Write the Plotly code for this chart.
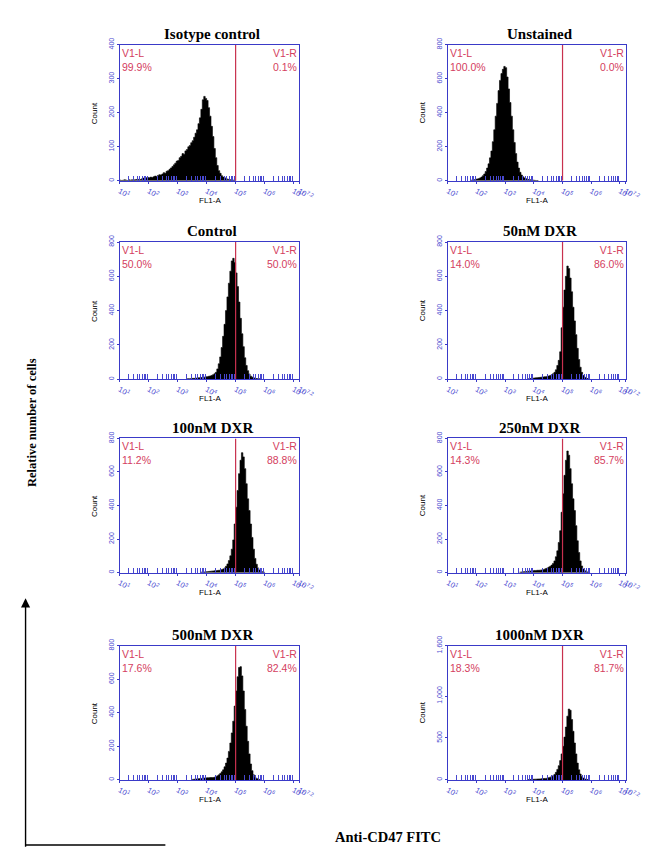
import plotly.graph_objects as go

W, H = 661, 849          # browser window
OFF = 8                  # default page (body) margin of the HTML page
FW, FH = W - OFF, H - OFF

# ---------------- data ----------------
BIN_STEP = 0.05  # histogram bin width in log10(FL1-A)

titles = ["Isotype control", "Unstained", "Control", "50nM DXR",
          "100nM DXR", "250nM DXR", "500nM DXR", "1000nM DXR"]
left_pct = ["99.9%", "100.0%", "50.0%", "14.0%", "11.2%", "14.3%", "17.6%", "18.3%"]
right_pct = ["0.1%", "0.0%", "50.0%", "86.0%", "88.8%", "85.7%", "82.4%", "81.7%"]
gate_log = [5.0, 5.0, 5.0, 5.0, 5.0, 5.0, 5.0, 5.0]
y_max = [400, 800, 800, 800, 800, 800, 800, 1600]
y_tickvals = [[0, 100, 200, 300, 400], [0, 200, 400, 600, 800], [0, 200, 400, 600, 800],
              [0, 200, 400, 600, 800], [0, 200, 400, 600, 800], [0, 200, 400, 600, 800],
              [0, 200, 400, 600, 800], [0, 500, 1000, 1600]]
y_ticktext = [["0", "100", "200", "300", "400"], ["0", "200", "400", "600", "800"],
              ["0", "200", "400", "600", "800"], ["0", "200", "400", "600", "800"],
              ["0", "200", "400", "600", "800"], ["0", "200", "400", "600", "800"],
              ["0", "200", "400", "600", "800"], ["0", "500", "1,000", "1,600"]]

# start of each histogram (log10 of first bin) and its counts
iso_start = 1.0
iso_counts = [2, 1, 2, 3, 2, 1, 3, 2, 3, 2,
              3, 4, 3, 5, 4, 6, 8, 7, 9, 10,
              9, 11, 10, 12, 14, 13, 16, 18, 17, 20,
              24, 22, 28, 30, 34, 38, 42, 47, 52, 58,
              60, 68, 72, 80, 78, 88, 92, 100, 104, 112,
              118, 128, 140, 150, 168, 185, 210, 238, 248, 242,
              236, 215, 190, 160, 130, 95, 68, 45, 30, 22,
              15, 11, 9, 7, 5, 4, 3, 2, 2, 1]
uns_start = 1.8
uns_counts = [4, 5, 7, 9, 11, 13, 17, 22, 30, 40,
              55, 75, 100, 135, 175, 230, 300, 380, 455, 530,
              590, 630, 655, 672, 665, 610, 540, 460, 380, 300,
              225, 160, 110, 75, 50, 34, 24, 17, 13, 10,
              8, 6, 5, 4, 3, 2, 2]
ctl_start = 3.3
ctl_counts = [2, 3, 3, 4, 5, 5, 6, 7, 8, 9,
              10, 11, 12, 14, 15, 17, 19, 22, 26, 32,
              40, 60, 90, 130, 185, 250, 320, 400, 480, 560,
              630, 690, 705, 680, 620, 540, 450, 355, 265, 190,
              125, 80, 50, 30, 18, 12, 8, 5, 4, 3, 2]
d50_start = 3.8
d50_counts = [3, 4, 5, 6, 7, 8, 9, 10, 11, 12,
              13, 14, 15, 17, 19, 22, 26, 32, 40, 55,
              80, 110, 160, 300, 420, 520, 600, 660, 645, 590,
              510, 420, 340, 260, 180, 115, 70, 40, 22, 12,
              7, 4, 2]
d100_start = 3.8
d100_counts = [3, 3, 4, 5, 6, 7, 8, 9, 10, 11,
              12, 13, 14, 15, 18, 22, 28, 38, 52, 72,
              100, 140, 195, 290, 390, 490, 590, 670, 715, 690,
              620, 530, 440, 370, 290, 210, 140, 85, 50, 28,
              16, 9, 5, 3]
d250_start = 3.5
d250_counts = [3, 4, 5, 6, 7, 8, 9, 10, 11, 12,
               13, 13, 14, 14, 15, 16, 18, 21, 24, 28,
               33, 38, 45, 55, 70, 95, 130, 180, 250, 360,
               470, 580, 670, 725, 700, 620, 530, 440, 370, 280,
               190, 120, 70, 40, 22, 12, 7, 4, 2]
d500_start = 3.5
d500_counts = [3, 4, 5, 6, 7, 8, 9, 10, 11, 12,
               13, 13, 14, 14, 14, 16, 19, 24, 30, 38,
               48, 60, 78, 100, 130, 170, 220, 280, 350, 440,
               530, 615, 670, 675, 620, 530, 420, 320, 230, 155,
               95, 55, 30, 16, 9, 5, 3]
d1000_start = 3.8
d1000_counts = [4, 5, 6, 7, 8, 9, 10, 11, 12, 14,
                16, 17, 18, 22, 27, 33, 40, 50, 65, 90,
                125, 170, 230, 310, 400, 510, 630, 760, 845, 830,
                720, 580, 440, 310, 200, 120, 70, 40, 22, 12,
                7, 4]

hist_starts = [iso_start, uns_start, ctl_start, d50_start,
               d100_start, d250_start, d500_start, d1000_start]
hist_counts = [iso_counts, uns_counts, ctl_counts, d50_counts,
               d100_counts, d250_counts, d500_counts, d1000_counts]

x_tick_exp = [1, 2, 3, 4, 5, 6, 7, 7.2]
x_tick_text = ["10<sup>1</sup>", "10<sup>2</sup>", "10<sup>3</sup>", "10<sup>4</sup>",
               "10<sup>5</sup>", "10<sup>6</sup>", "10<sup>7</sup>", "10<sup>7.2</sup>"]

# ---------------- layout geometry (window pixels) ----------------
col_x = [(120, 305), (458, 641)]
row_y = [(35, 173), (235, 374), (434, 570), (644, 780)]

BLUE = "#3a3ac8"
TICK_BLUE = "#4848d0"
RED = "#c8304e"
TXT_RED = "#d4405e"


def px(x):
    return (x - OFF) / FW


def py(y):
    return 1 - (y - OFF) / FH


minor_vals = []
for d in range(1, 8):
    for k in range(2, 10):
        v = k * 10 ** d
        if v <= 10 ** 7.2:
            minor_vals.append(v)

fig = go.Figure()
annotations = []
shapes = []
layout = {}

for i in range(8):
    r, c = divmod(i, 2)
    x0, x1 = col_x[c]
    ytop, ybot = row_y[r]
    n = i + 1
    xa = "x" if n == 1 else f"x{n}"
    ya = "y" if n == 1 else f"y{n}"
    xkey = "xaxis" if n == 1 else f"xaxis{n}"
    ykey = "yaxis" if n == 1 else f"yaxis{n}"

    start = hist_starts[i]
    counts = hist_counts[i]
    xs = [10 ** (start + j * BIN_STEP) for j in range(len(counts) + 1)]
    ys = list(counts) + [0]
    fig.add_trace(go.Scatter(
        x=xs, y=ys, xaxis=xa, yaxis=ya, mode="lines", line_shape="hv",
        line=dict(color="black", width=0.6), fill="tozeroy", fillcolor="black",
        hoverinfo="skip", showlegend=False))

    # gate line
    g = 10 ** gate_log[i]
    fig.add_trace(go.Scatter(
        x=[g, g], y=[0, y_max[i]], xaxis=xa, yaxis=ya, mode="lines",
        line=dict(color=RED, width=1.2), hoverinfo="skip", showlegend=False))

    layout[xkey] = dict(
        domain=[px(x0), px(x1)], anchor=ya, type="log", range=[1, 7.2],
        tickmode="array", tickvals=[10 ** e for e in x_tick_exp], ticktext=x_tick_text,
        tickfont=dict(family="Liberation Sans", size=7.5, color=TICK_BLUE),
        ticks="outside", ticklen=2, tickcolor=BLUE,
        minor=dict(tickmode="array", tickvals=minor_vals, ticks="inside",
                   ticklen=5, tickcolor=TICK_BLUE, tickwidth=1.3, showgrid=False),
        showline=True, linecolor=BLUE, linewidth=1.2, mirror=True,
        showgrid=False, zeroline=False, fixedrange=True)
    layout[ykey] = dict(
        domain=[py(ybot), py(ytop)], anchor=xa, range=[0, y_max[i]],
        tickmode="array", tickvals=y_tickvals[i], ticktext=y_ticktext[i],
        tickangle=-90, tickfont=dict(family="Liberation Sans", size=7, color=TICK_BLUE),
        ticks="outside", ticklen=2, tickcolor=BLUE,
        showline=True, linecolor=BLUE, linewidth=1.2, mirror=True,
        showgrid=False, zeroline=False, fixedrange=True)

    xc = (x0 + x1) / 2
    # panel title
    annotations.append(dict(
        x=px(xc + 3), y=py(ytop - 11), xref="paper", yref="paper", text=f"<b>{titles[i]}</b>",
        showarrow=False, xanchor="center", yanchor="middle",
        font=dict(family="Liberation Serif", size=15, color="black")))
    # gate region labels
    annotations.append(dict(
        x=px(x0 + 1), y=py(ytop + 1), xref="paper", yref="paper",
        text=f"V1-L<br>{left_pct[i]}", showarrow=False, xanchor="left", yanchor="top",
        align="left", borderpad=0,
        font=dict(family="Liberation Sans", size=10.5, color=TXT_RED)))
    annotations.append(dict(
        x=px(x1 - 1), y=py(ytop + 1), xref="paper", yref="paper",
        text=f"V1-R<br>{right_pct[i]}", showarrow=False, xanchor="right", yanchor="top",
        align="right", borderpad=0,
        font=dict(family="Liberation Sans", size=10.5, color=TXT_RED)))
    # axis titles
    annotations.append(dict(
        x=px(x0 - 26), y=py((ytop + ybot) / 2), xref="paper", yref="paper",
        text="Count", textangle=-90, showarrow=False, xanchor="center", yanchor="middle",
        font=dict(family="Liberation Sans", size=8, color="black")))
    annotations.append(dict(
        x=px(xc), y=py(ybot + 20), xref="paper", yref="paper",
        text="FL1-A", showarrow=False, xanchor="center", yanchor="middle",
        font=dict(family="Liberation Sans", size=8, color="black")))

# outer labels
annotations.append(dict(
    x=px(29), y=py(418), xref="paper", yref="paper",
    text="<b>Relative number of cells</b>", textangle=-90, showarrow=False,
    xanchor="center", yanchor="middle",
    font=dict(family="Liberation Serif", size=12.5, color="black")))
annotations.append(dict(
    x=px(396), y=py(838), xref="paper", yref="paper",
    text="<b>Anti-CD47 FITC</b>", showarrow=False, xanchor="center", yanchor="middle",
    font=dict(family="Liberation Serif", size=14.5, color="black")))
annotations.append(dict(
    x=px(23), y=py(596), xref="paper", yref="paper", text="", showarrow=True,
    ax=0, ay=250, arrowhead=2, arrowsize=1.3, arrowwidth=1.4, arrowcolor="black"))
shapes.append(dict(type="line", xref="paper", yref="paper",
                   x0=px(23), x1=px(167), y0=py(846), y1=py(846),
                   line=dict(color="black", width=1.4)))

fig.update_layout(
    width=FW, height=FH, margin=dict(l=0, r=0, t=0, b=0),
    paper_bgcolor="white", plot_bgcolor="white",
    annotations=annotations, shapes=shapes, showlegend=False, **layout)

fig.write_html("out.html")
